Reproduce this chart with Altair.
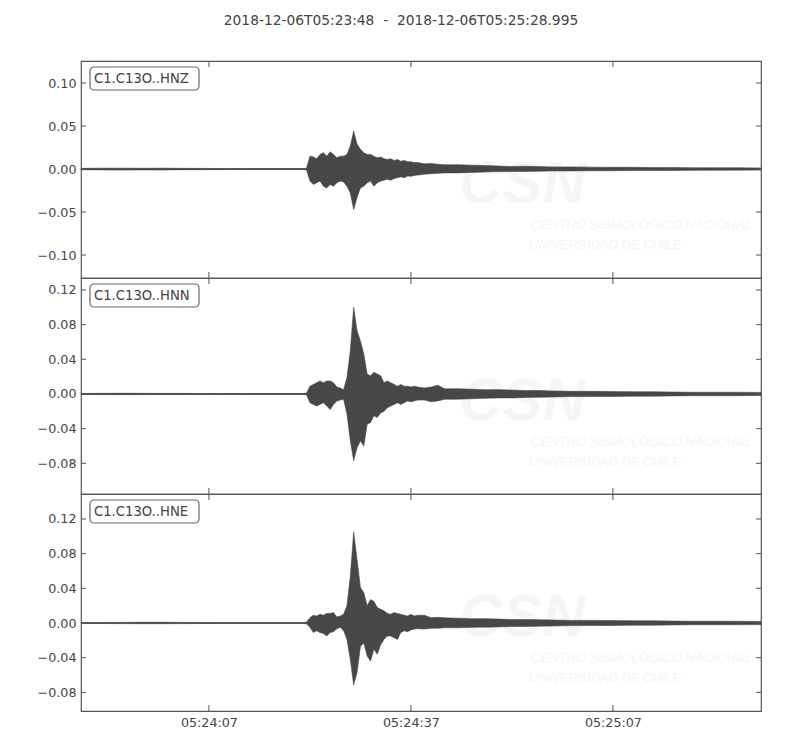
import altair as alt
import pandas as pd

TITLE = "2018-12-06T05:23:48\u00a0 -\u00a0 2018-12-06T05:25:28.995"
CHANNELS = ["C1.C13O..HNZ", "C1.C13O..HNN", "C1.C13O..HNE"]
T_END = 100.995  # seconds after 05:23:48

# sample times (s after start) of the read-off envelope
TIMES = [0, 3, 6, 9, 12, 15, 18, 21, 24, 27, 30, 33,
         33.5, 34, 34.5, 35, 35.5, 36, 36.5, 37, 37.5, 38, 38.5, 39, 39.5,
         40, 40.5, 41, 41.5, 42, 42.5, 43, 43.5, 44, 44.5, 45, 45.5, 46, 46.5,
         47, 47.5, 48, 48.5, 49, 49.5, 50,
         51, 52, 53, 54,
         56, 58, 60, 62, 64, 66, 68, 70,
         73, 76, 79, 82, 85, 88, 91, 94, 97, 100.995]

Z_HI = [0.0008, 0.001, 0.001, 0.0009, 0.001, 0.0008, 0.0007, 0.0006, 0.0005, 0.0005, 0.0005, 0.0005,
        0.001, 0.015, 0.014, 0.012, 0.017, 0.019, 0.015, 0.020, 0.017, 0.013, 0.015, 0.015, 0.017,
        0.027, 0.044, 0.029, 0.023, 0.019, 0.017, 0.017, 0.015, 0.013, 0.014, 0.012, 0.011, 0.012, 0.010,
        0.011, 0.009, 0.010, 0.0085, 0.0085, 0.0075, 0.0075,
        0.006, 0.0065, 0.0055, 0.005,
        0.005, 0.0045, 0.004, 0.0035, 0.003, 0.0032, 0.0028, 0.0025,
        0.0025, 0.0022, 0.002, 0.002, 0.0018, 0.0018, 0.0015, 0.0015, 0.0015, 0.0012]
Z_LO = [-0.0008, -0.001, -0.0012, -0.001, -0.0011, -0.0008, -0.0007, -0.0006, -0.0005, -0.0005, -0.0005, -0.0005,
        -0.001, -0.014, -0.018, -0.016, -0.014, -0.020, -0.022, -0.018, -0.020, -0.016, -0.014, -0.015, -0.020,
        -0.028, -0.047, -0.033, -0.022, -0.020, -0.016, -0.014, -0.020, -0.016, -0.014, -0.013, -0.012, -0.013, -0.011,
        -0.010, -0.009, -0.010, -0.008, -0.0085, -0.0075, -0.007,
        -0.006, -0.0055, -0.005, -0.0045,
        -0.0045, -0.004, -0.0035, -0.003, -0.003, -0.0028, -0.0025, -0.0022,
        -0.0022, -0.002, -0.002, -0.0018, -0.0018, -0.0016, -0.0015, -0.0014, -0.0013, -0.0012]

N_HI = [0.0006, 0.0007, 0.0008, 0.0007, 0.0006, 0.0006, 0.0005, 0.0005, 0.0005, 0.0005, 0.0005, 0.0005,
        0.001, 0.009, 0.011, 0.013, 0.015, 0.013, 0.015, 0.015, 0.013, 0.008, 0.007, 0.005, 0.019,
        0.050, 0.100, 0.073, 0.061, 0.046, 0.023, 0.021, 0.025, 0.023, 0.021, 0.013, 0.015, 0.013, 0.011,
        0.009, 0.011, 0.009, 0.009, 0.008, 0.009, 0.008,
        0.007, 0.008, 0.010, 0.006,
        0.006, 0.0055, 0.005, 0.005, 0.0045, 0.004, 0.004, 0.0035,
        0.003, 0.003, 0.0028, 0.0025, 0.0025, 0.0022, 0.002, 0.002, 0.002, 0.0018]
N_LO = [-0.0006, -0.0007, -0.0008, -0.0007, -0.0006, -0.0006, -0.0005, -0.0005, -0.0005, -0.0005, -0.0005, -0.0005,
        -0.001, -0.010, -0.012, -0.014, -0.012, -0.010, -0.014, -0.018, -0.012, -0.008, -0.007, -0.006, -0.023,
        -0.054, -0.077, -0.062, -0.054, -0.060, -0.035, -0.033, -0.025, -0.027, -0.022, -0.020, -0.016, -0.014, -0.012,
        -0.010, -0.012, -0.010, -0.008, -0.009, -0.008, -0.007,
        -0.007, -0.009, -0.008, -0.006,
        -0.006, -0.0055, -0.005, -0.0045, -0.0045, -0.004, -0.0038, -0.0035,
        -0.003, -0.003, -0.0028, -0.0025, -0.0025, -0.0022, -0.002, -0.002, -0.002, -0.0018]

E_HI = [0.0005, 0.0006, 0.0007, 0.0008, 0.0008, 0.0007, 0.0006, 0.0005, 0.0005, 0.0005, 0.0005, 0.0005,
        0.001, 0.006, 0.009, 0.008, 0.010, 0.009, 0.011, 0.011, 0.012, 0.007, 0.008, 0.010, 0.020,
        0.054, 0.105, 0.073, 0.041, 0.035, 0.020, 0.027, 0.025, 0.018, 0.016, 0.014, 0.011, 0.010, 0.012,
        0.011, 0.010, 0.009, 0.008, 0.010, 0.008, 0.009,
        0.009, 0.006, 0.0065, 0.006,
        0.0055, 0.005, 0.005, 0.0045, 0.004, 0.004, 0.0038, 0.0035,
        0.003, 0.003, 0.0028, 0.0025, 0.0025, 0.0022, 0.002, 0.002, 0.002, 0.0018]
E_LO = [-0.0005, -0.0006, -0.0007, -0.0008, -0.0008, -0.0007, -0.0006, -0.0005, -0.0005, -0.0005, -0.0005, -0.0005,
        -0.001, -0.005, -0.011, -0.009, -0.011, -0.012, -0.015, -0.011, -0.010, -0.0065, -0.005, -0.009, -0.019,
        -0.042, -0.0715, -0.057, -0.027, -0.023, -0.038, -0.044, -0.030, -0.036, -0.025, -0.019, -0.015, -0.015, -0.017,
        -0.019, -0.011, -0.009, -0.010, -0.008, -0.007, -0.0065,
        -0.007, -0.006, -0.006, -0.0055,
        -0.0055, -0.005, -0.0048, -0.0045, -0.004, -0.004, -0.0036, -0.0035,
        -0.003, -0.003, -0.0028, -0.0025, -0.0025, -0.0022, -0.002, -0.002, -0.002, -0.0018]

Y_DOMAINS = [[-0.1267, 0.1256], [-0.1154, 0.1338], [-0.1015, 0.1488]]
Y_TICKS = [[-0.10, -0.05, 0.0, 0.05, 0.10],
           [-0.08, -0.04, 0.0, 0.04, 0.08, 0.12],
           [-0.08, -0.04, 0.0, 0.04, 0.08, 0.12]]
X_TICKS = [19, 49, 79]
X_LABELS = ["05:24:07", "05:24:37", "05:25:07"]

WM_LINES = ["CENTRO SISMOLÓGICO NACIONAL", "UNIVERSIDAD DE CHILE"]
WM_BIG = "CSN"

W = 680
HEIGHTS = [217, 216, 217]
TRACE = "#474747"
FRAME = "#555555"
TXT = "#444444"
WM = "#f5f5f5"
FONT = "DejaVu Sans"

label_expr = "".join(f"datum.value == {v} ? '{l}' : " for v, l in zip(X_TICKS, X_LABELS)) + "''"


def panel(i, hi, lo):
    h = HEIGHTS[i]
    df = pd.DataFrame({"t": TIMES, "hi": hi, "lo": lo})
    xscale = alt.Scale(domain=[0, T_END], nice=False, zero=False)
    yscale = alt.Scale(domain=Y_DOMAINS[i], nice=False, zero=False)
    if i == 2:
        xaxis = alt.Axis(values=X_TICKS, labelExpr=label_expr, domain=False, ticks=False,
                         grid=False, title=None, labelPadding=5, labelFontSize=12.7,
                         labelColor=TXT, labelFont=FONT, minExtent=20, maxExtent=20)
    else:
        xaxis = None
    yaxis = alt.Axis(values=Y_TICKS[i], format=".2f", domain=False, ticks=False, grid=False,
                     title=None, labelPadding=5, labelFontSize=12.7, labelColor=TXT,
                     labelFont=FONT, minExtent=50, maxExtent=50)

    wm_df = pd.DataFrame({"big": [WM_BIG], "l1": [WM_LINES[0]], "l2": [WM_LINES[1]]})
    wm_big = alt.Chart(wm_df).mark_text(
        font="Liberation Sans", fontSize=60, fontWeight="bold", fontStyle="italic",
        color=WM, align="left", baseline="alphabetic").encode(
        x=alt.value(378), y=alt.value(142), text="big:N")
    wm_l1 = alt.Chart(wm_df).mark_text(
        font="Liberation Sans", fontSize=13, fontStyle="italic", color=WM,
        align="left", baseline="middle").encode(x=alt.value(450), y=alt.value(164), text="l1:N")
    wm_l2 = alt.Chart(wm_df).mark_text(
        font="Liberation Sans", fontSize=13, fontStyle="italic", color=WM,
        align="left", baseline="middle").encode(x=alt.value(448), y=alt.value(184), text="l2:N")

    zero = alt.Chart(pd.DataFrame({"hi": [0.0]})).mark_rule(color=TRACE, strokeWidth=1.2).encode(
        y=alt.Y("hi:Q", scale=yscale, axis=yaxis))

    area = alt.Chart(df).mark_area(color=TRACE, stroke=TRACE, strokeWidth=0.6,
                                   interpolate="linear", opacity=1).encode(
        x=alt.X("t:Q", scale=xscale, axis=xaxis),
        y=alt.Y("hi:Q", scale=yscale, axis=yaxis),
        y2="lo:Q")

    ytick_df = pd.DataFrame({"hi": Y_TICKS[i]})
    ytl = alt.Chart(ytick_df).mark_rule(color=FRAME, strokeWidth=1).encode(
        y=alt.Y("hi:Q", scale=yscale, axis=yaxis), x=alt.value(0), x2=alt.value(5))
    ytr = alt.Chart(ytick_df).mark_rule(color=FRAME, strokeWidth=1).encode(
        y=alt.Y("hi:Q", scale=yscale, axis=yaxis), x=alt.value(W - 5), x2=alt.value(W))
    xtick_df = pd.DataFrame({"t": X_TICKS})
    xtt = alt.Chart(xtick_df).mark_rule(color=FRAME, strokeWidth=1).encode(
        x=alt.X("t:Q", scale=xscale, axis=xaxis), y=alt.value(0), y2=alt.value(6))
    xtb = alt.Chart(xtick_df).mark_rule(color=FRAME, strokeWidth=1).encode(
        x=alt.X("t:Q", scale=xscale, axis=xaxis), y=alt.value(h - 6), y2=alt.value(h))

    lab_df = pd.DataFrame({"label": [CHANNELS[i]]})
    box = alt.Chart(lab_df).mark_rect(fill="white", stroke="#666666", strokeWidth=1.2,
                                      cornerRadius=4).encode(
        x=alt.value(9), x2=alt.value(118), y=alt.value(6), y2=alt.value(29))
    lab = alt.Chart(lab_df).mark_text(font=FONT, fontSize=13.2, color=TXT, align="left",
                                      baseline="middle").encode(
        x=alt.value(13), y=alt.value(18), text="label:N")

    layers = [wm_big, wm_l1, wm_l2, zero, area, ytl, ytr, xtt, xtb, box, lab]
    if i == 0:
        ttl = alt.Chart(pd.DataFrame({"title": [TITLE]})).mark_text(
            font=FONT, fontSize=13.8, color=TXT, align="center", baseline="middle").encode(
            x=alt.value(320), y=alt.value(-40), text="title:N")
        layers.append(ttl)
    return alt.layer(*layers).properties(width=W, height=h)


chart = alt.vconcat(
    panel(0, Z_HI, Z_LO),
    panel(1, N_HI, N_LO),
    panel(2, E_HI, E_LO),
    spacing=0,
    bounds="flush",
).properties(
    padding={"left": 22, "top": 5, "right": 10, "bottom": 5},
    background="white",
).configure_view(stroke=FRAME, strokeWidth=1.2)

chart.save("out.html", embed_options={"renderer": "svg", "actions": False})
